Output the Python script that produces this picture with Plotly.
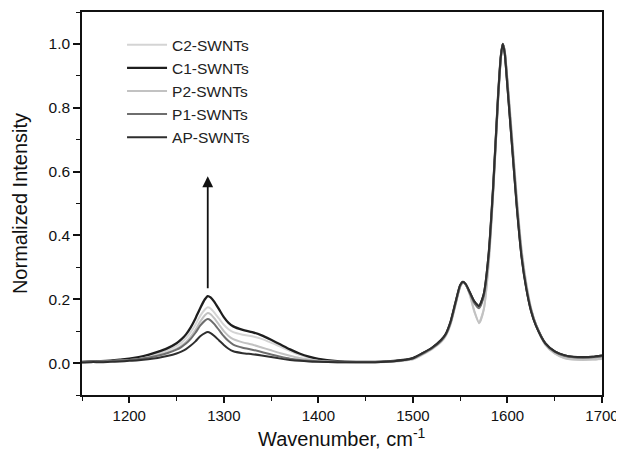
import plotly.graph_objects as go

wavenumber = [1150,1160,1170,1180,1190,1200,1210,1220,1230,1240,1250,
              1255,1260,1265,1270,1275,1280,
              1283,1286,1290,1295,1300,1305,1310,
              1320,1330,1340,1350,1360,1370,1380,1390,1400,
              1420,1440,1460,1480,1500,
              1510,1520,1530,1535,1540,1545,1550,1553,1556,1560,1565,1570,1575,1580,1585,1590,1593,1595,1597,1600,
              1605,1610,1615,1620,1625,1630,1640,1650,1660,1670,1680,1690,1700]

c2_swnts = [0.004,0.005,0.006,0.007,0.009,0.012,0.016,0.022,0.030,0.040,0.054,
            0.064,0.078,0.097,0.120,0.148,0.168,
            0.175,0.171,0.158,0.139,0.120,0.106,0.097,
            0.089,0.084,0.076,0.064,0.051,0.038,0.026,0.017,0.011,
            0.005,0.003,0.003,0.005,0.012,
            0.026,0.043,0.066,0.086,0.122,0.180,0.238,0.252,0.245,0.215,0.160,0.128,0.170,0.310,0.540,0.820,0.955,1.000,0.980,0.885,
            0.700,0.510,0.350,0.245,0.170,0.120,0.058,0.030,0.016,0.011,0.010,0.011,0.013]

c1_swnts = [0.004,0.005,0.006,0.008,0.011,0.014,0.019,0.026,0.035,0.046,0.062,
            0.074,0.090,0.112,0.140,0.172,0.200,
            0.210,0.206,0.192,0.168,0.144,0.126,0.115,
            0.104,0.097,0.087,0.073,0.058,0.043,0.030,0.020,0.013,
            0.006,0.004,0.004,0.007,0.016,
            0.030,0.047,0.072,0.092,0.130,0.188,0.243,0.254,0.246,0.222,0.192,0.178,0.215,0.335,0.555,0.830,0.960,1.000,0.975,0.870,
            0.680,0.490,0.335,0.235,0.165,0.120,0.062,0.036,0.024,0.019,0.018,0.019,0.023]

p2_swnts = [0.003,0.004,0.005,0.006,0.008,0.010,0.013,0.018,0.025,0.033,0.045,
            0.054,0.066,0.083,0.104,0.130,0.150,
            0.157,0.153,0.140,0.120,0.100,0.085,0.075,
            0.065,0.058,0.049,0.040,0.031,0.023,0.016,0.011,0.007,
            0.004,0.003,0.003,0.005,0.012,
            0.027,0.045,0.068,0.088,0.125,0.183,0.240,0.253,0.246,0.217,0.163,0.125,0.168,0.305,0.535,0.815,0.952,1.000,0.982,0.888,
            0.705,0.515,0.355,0.250,0.172,0.122,0.058,0.030,0.016,0.011,0.010,0.011,0.014]

p1_swnts = [0.003,0.004,0.005,0.006,0.008,0.010,0.013,0.017,0.023,0.031,0.042,
            0.050,0.061,0.076,0.095,0.117,0.133,
            0.138,0.134,0.122,0.103,0.084,0.069,0.058,
            0.048,0.042,0.035,0.027,0.020,0.014,0.010,0.007,0.005,
            0.003,0.003,0.003,0.006,0.014,
            0.029,0.046,0.070,0.090,0.128,0.186,0.242,0.254,0.247,0.220,0.188,0.172,0.210,0.328,0.550,0.828,0.958,1.000,0.977,0.875,
            0.685,0.495,0.338,0.237,0.166,0.120,0.061,0.035,0.023,0.018,0.017,0.018,0.021]

ap_swnts = [0.002,0.003,0.003,0.004,0.005,0.007,0.009,0.012,0.016,0.022,0.030,
            0.036,0.044,0.055,0.068,0.084,0.094,
            0.097,0.094,0.085,0.071,0.057,0.045,0.037,
            0.031,0.028,0.024,0.019,0.014,0.010,0.007,0.005,0.004,
            0.003,0.003,0.003,0.006,0.015,
            0.031,0.048,0.073,0.093,0.132,0.190,0.245,0.255,0.247,0.223,0.193,0.180,0.218,0.338,0.558,0.832,0.962,1.000,0.973,0.865,
            0.675,0.485,0.330,0.232,0.162,0.118,0.062,0.037,0.025,0.020,0.019,0.020,0.024]

series_names = ["C2-SWNTs", "C1-SWNTs", "P2-SWNTs", "P1-SWNTs", "AP-SWNTs"]
series_values = [c2_swnts, c1_swnts, p2_swnts, p1_swnts, ap_swnts]
series_colors = ["#d4d4d4", "#1e1e1e", "#c2c2c2", "#6e6e6e", "#2e2e2e"]
series_widths = [2.0, 2.3, 2.0, 2.0, 2.0]

fig = go.Figure()
for name, vals, col, w in zip(series_names, series_values, series_colors, series_widths):
    fig.add_trace(go.Scatter(x=wavenumber, y=vals, mode="lines", name=name,
                             line=dict(color=col, width=w, shape="spline", smoothing=0.6)))

fig.add_annotation(x=1283, y=0.585, ax=1283, ay=0.23, xref="x", yref="y",
                   axref="x", ayref="y", showarrow=True, arrowhead=2,
                   arrowsize=1.2, arrowwidth=1.8, arrowcolor="#111", text="")

font_family = "Liberation Sans, Arial, sans-serif"

fig.add_annotation(x=0.5, y=-0.112, xref="paper", yref="paper", xanchor="center", yanchor="middle",
                   showarrow=False, text="Wavenumber, cm<sup>-1</sup>",
                   font=dict(size=20, family=font_family, color="#111"))

fig.update_layout(
    width=616, height=447,
    margin=dict(l=74, r=22, t=4, b=60, autoexpand=False),
    paper_bgcolor="white", plot_bgcolor="white",
    font=dict(family=font_family, color="#111", size=15),
    showlegend=True,
    legend=dict(x=0.077, y=0.958, xanchor="left", yanchor="top",
                bgcolor="rgba(0,0,0,0)", font=dict(size=15.5, family=font_family, color="#222"),
                tracegroupgap=0, itemwidth=40),
    xaxis=dict(range=[1150, 1700], tickmode="linear", tick0=1200, dtick=100,
               automargin=False,
               showline=True, linecolor="#111", linewidth=1.5, mirror=True,
               ticks="outside", ticklen=6, tickwidth=1.5, tickcolor="#111",
               minor=dict(ticks="outside", ticklen=4, tickwidth=1.2, tickcolor="#111", dtick=50, tick0=1150),
               showgrid=False, zeroline=False,
               tickfont=dict(size=15)),
    yaxis=dict(range=[-0.1, 1.1], tickmode="linear", tick0=0, dtick=0.2, tickformat=".1f",
               automargin=False,
               showline=True, linecolor="#111", linewidth=1.5, mirror=True,
               ticks="outside", ticklen=7, tickwidth=1.5, tickcolor="#111",
               minor=dict(ticks="outside", ticklen=4, tickwidth=1.2, tickcolor="#111", dtick=0.1, tick0=0),
               showgrid=False, zeroline=False,
               title=dict(text="Normalized Intensity", font=dict(size=20), standoff=16),
               tickfont=dict(size=15.5)),
)

fig.write_html("out.html")
